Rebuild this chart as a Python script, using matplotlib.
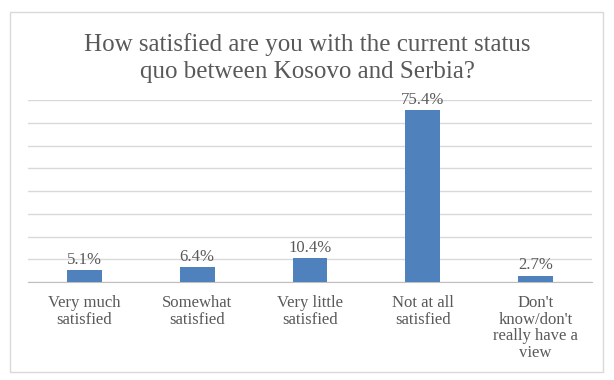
import matplotlib
matplotlib.use("Agg")
import matplotlib.pyplot as plt
from matplotlib.patches import Rectangle

categories = ["Very much\nsatisfied", "Somewhat\nsatisfied", "Very little\nsatisfied",
              "Not at all\nsatisfied", "Don't\nknow/don't\nreally have a\nview"]
values = [5.1, 6.4, 10.4, 75.4, 2.7]
labels = ["5.1%", "6.4%", "10.4%", "75.4%", "2.7%"]
title = "How satisfied are you with the current status\nquo between Kosovo and Serbia?"

plt.rcParams["font.family"] = ["Liberation Serif", "DejaVu Serif"]
text_col = "#595959"

fig = plt.figure(figsize=(6.14, 3.8), dpi=100)
fig.patches.append(Rectangle((10 / 614, 8 / 380), 593 / 614, 360 / 380, transform=fig.transFigure,
                             fill=False, edgecolor="#D9D9D9", linewidth=1))

ax = fig.add_axes([28 / 614, 1 - 282 / 380, 564 / 614, 182 / 380])
x = range(len(values))
bars = ax.bar(x, values, width=0.31, color="#4F81BD", zorder=3)
for b, lab in zip(bars, labels):
    ax.text(b.get_x() + b.get_width() / 2, b.get_height() + 1.2, lab,
            ha="center", va="bottom", fontsize=12, color=text_col)

ax.set_xlim(-0.5, 4.5)
ax.set_ylim(0, 80)
ax.set_yticks(range(0, 81, 10))
ax.yaxis.grid(True, color="#D9D9D9", linewidth=1)
ax.set_axisbelow(True)
ax.tick_params(axis="y", left=False, labelleft=False)
ax.tick_params(axis="x", bottom=False, pad=6)
ax.set_xticks(list(x))
ax.set_xticklabels(categories, fontsize=12, color=text_col, linespacing=1.05)
for s in ["top", "right", "left"]:
    ax.spines[s].set_visible(False)
ax.spines["bottom"].set_color("#BFBFBF")

fig.text(0.5, 1 - 58 / 380, title, ha="center", va="center", fontsize=18,
         color=text_col, linespacing=1.3)

fig.savefig("out.png", dpi=100)
